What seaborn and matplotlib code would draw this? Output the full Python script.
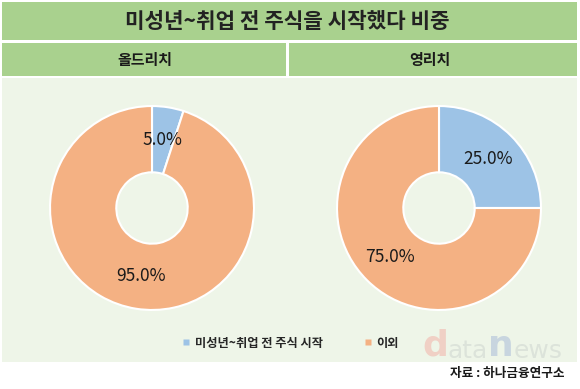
import matplotlib
matplotlib.use("Agg")
import matplotlib.pyplot as plt
import seaborn as sns
from matplotlib.patches import Rectangle
from matplotlib.lines import Line2D
from matplotlib.text import Annotation

# data
title = "미성년~취업 전 주식을 시작했다 비중"
groups = ["올드리치", "영리치"]
categories = ["미성년~취업 전 주식 시작", "이외"]
old_rich = [5.0, 95.0]
young_rich = [25.0, 75.0]
source = "자료 : 하나금융연구소"

sns.set_style("white")
plt.rcParams["font.family"] = ["Noto Sans CJK KR", "DejaVu Sans"]

colors = sns.color_palette(["#9DC3E6", "#F4B183"])
green = "#A9D18E"
panel = "#EEF5E8"

W, H = 580, 389
fig = plt.figure(figsize=(W / 100, H / 100), dpi=100)
fig.patch.set_facecolor("white")


def box(x, y, w, h):
    # pixel box (top-left origin) -> figure coords
    return (x / W, 1 - (y + h) / H, w / W, h / H)


def add_rect(x, y, w, h, color):
    l, b, ww, hh = box(x, y, w, h)
    fig.patches.append(Rectangle((l, b), ww, hh, transform=fig.transFigure,
                                 facecolor=color, edgecolor="none", zorder=-5))


add_rect(2, 2, 575, 38, green)
add_rect(2, 43, 284, 33, green)
add_rect(289, 43, 288, 33, green)
add_rect(2, 78, 575, 284, panel)

fig.text(287 / W, 1 - 21 / H, title, ha="center", va="center",
         fontsize=15.3, fontweight="bold", color="#222222")
fig.text(144.5 / W, 1 - 59.5 / H, groups[0], ha="center", va="center",
         fontsize=10.8, fontweight="bold", color="#1a1a1a")
fig.text(430 / W, 1 - 59.5 / H, groups[1], ha="center", va="center",
         fontsize=10.8, fontweight="bold", color="#1a1a1a")

R = 103
for cx, cy, vals in [(152, 208, old_rich), (439, 208, young_rich)]:
    ax = fig.add_axes(box(cx - R, cy - R, 2 * R, 2 * R))
    ax.set_zorder(2)
    ax.set_facecolor("none")
    ax.pie(
        vals, colors=colors, startangle=90, counterclock=False,
        autopct="%.1f%%", pctdistance=0.675,
        wedgeprops=dict(width=0.65, edgecolor="white", linewidth=1.5),
        textprops=dict(fontsize=12.5, color="#1a1a1a"),
    )
    ax.set_xlim(-1.01, 1.01)
    ax.set_ylim(-1.01, 1.01)

handles = [Line2D([], [], marker="s", linestyle="none", markersize=4.5,
                  markerfacecolor=c, markeredgecolor="none") for c in colors]
fig.legend(handles, categories, loc="center", bbox_to_anchor=(290 / W, 1 - 343 / H),
           ncol=2, frameon=False, columnspacing=3.3, handletextpad=0.3,
           handlelength=0.8, prop=dict(size=8.8, weight="bold"))

# watermark
prev = fig.text(422 / W, 1 - 356 / H, "d", fontsize=26, fontweight="bold",
                color="#F0D0C5", va="baseline", family="DejaVu Sans")
for part, col, fw, fs in [("ata", "#DCE3DA", "normal", 18), ("n", "#C8D5DF", "bold", 26),
                          ("ews", "#DCE3DA", "normal", 18)]:
    prev = fig.add_artist(Annotation(
        part, xy=(1, 0), xycoords=prev, va="bottom", ha="left",
        fontsize=fs, fontweight=fw, color=col, family="DejaVu Sans"))

fig.text(564 / W, 1 - 373 / H, source, ha="right", va="center",
         fontsize=9.1, fontweight="bold", color="#1a1a1a")

fig.savefig("out.png", dpi=100, facecolor="white")
